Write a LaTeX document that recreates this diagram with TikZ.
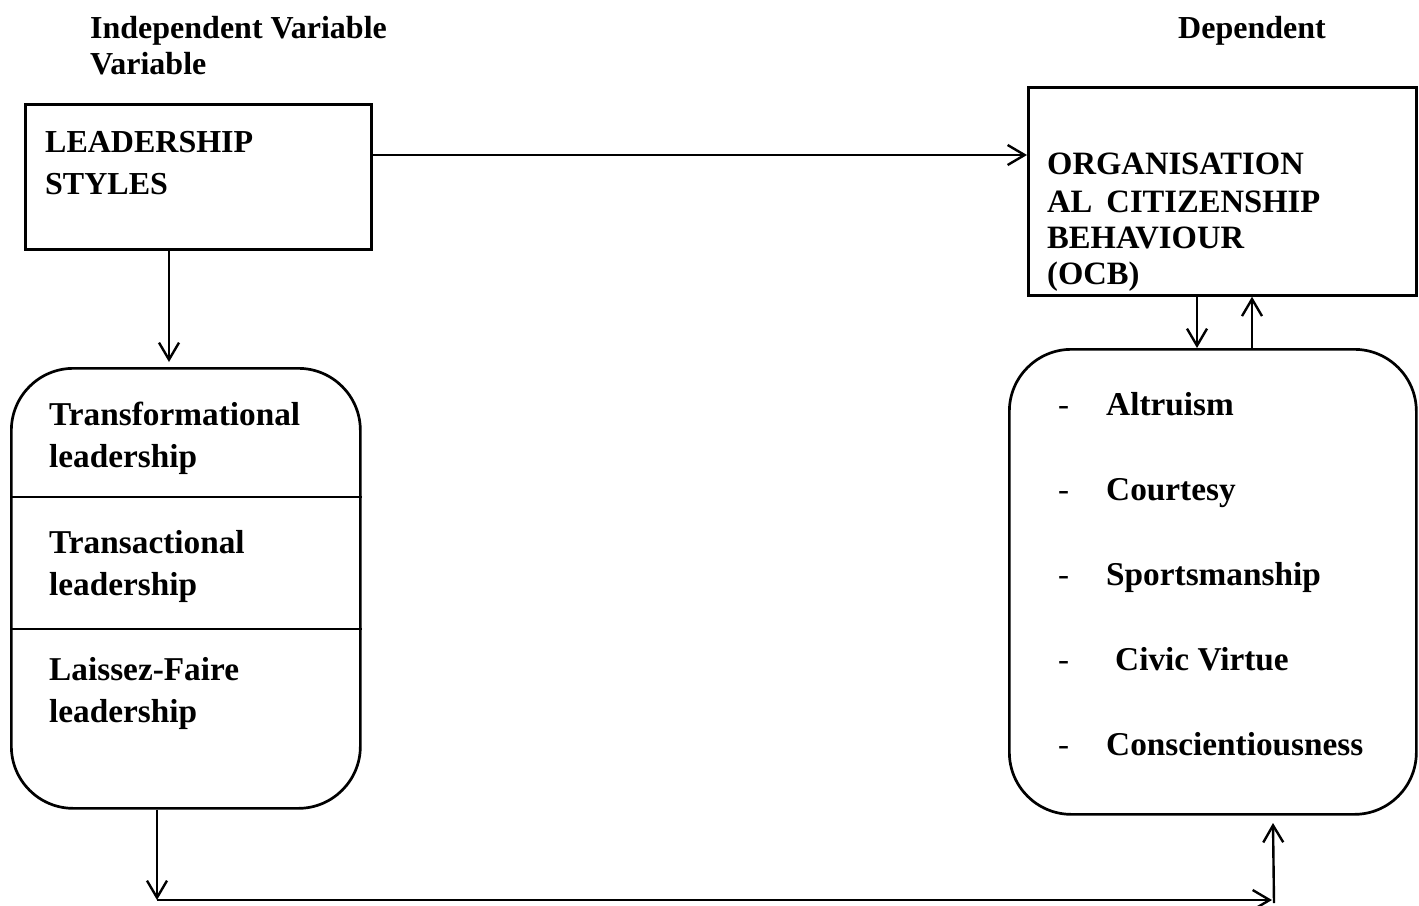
\documentclass[tikz,border=0pt]{standalone}
\usepackage{fontspec}
\setmainfont{Liberation Serif}
\usetikzlibrary{arrows.meta}
\begin{document}
\begin{tikzpicture}[x=1pt,y=-1pt,
  txt/.style={inner sep=0pt,anchor=base west,font=\fontsize{32}{36}\selectfont\bfseries},
  itm/.style={inner sep=0pt,anchor=base west,font=\fontsize{33.3}{36}\selectfont\bfseries},
  otx/.style={inner sep=0pt,anchor=base west,font=\fontsize{32.6}{36}\selectfont\bfseries},
  dsh/.style={inner sep=0pt,anchor=base west,font=\fontsize{33}{36}\selectfont},
  sqbox/.style={draw,line width=2.7pt,inner sep=0pt,anchor=north west},
  rbox/.style={draw,line width=2.7pt,inner sep=0pt,anchor=north west,rounded corners=62pt},
  conn/.style={line width=2.4pt,-{Straight Barb[length=17pt,width=20pt,line width=2.4pt]}}]
\useasboundingbox (0,0) rectangle (1419,905);
% headers
\node[txt] (h1) at (90,38) {Independent Variable};
\node[txt] (h2) at (90,74) {Variable};
\node[txt] (h3) at (1178,38) {Dependent};
% leadership styles box
\node[sqbox,minimum width=346pt,minimum height=145pt] (lead) at (24,103) {};
\node[txt] (l1) at (45,152) {LEADERSHIP};
\node[txt] (l2) at (45,194) {STYLES};
% OCB box
\node[sqbox,minimum width=388pt,minimum height=208pt] (ocb) at (1027,86) {};
\node[otx] (o1) at (1047,174) {ORGANISATION};
\node[otx] (o2) at (1047,212) {AL\hspace{14pt}CITIZENSHIP};
\node[otx] (o3) at (1047,248) {BEHAVIOUR};
\node[otx] (o4) at (1047,284) {(OCB)};
% left rounded box
\node[rbox,minimum width=349pt,minimum height=440pt] (styles) at (10,367) {};
\draw[line width=2.7pt] (styles.west |- 0,497) coordinate (d1a) -- (styles.east |- 0,497) coordinate (d1b);
\draw[line width=2.7pt] (styles.west |- 0,629) coordinate (d2a) -- (styles.east |- 0,629) coordinate (d2b);
\node[itm] (s1) at (49,425) {Transformational};
\node[itm] (s2) at (49,467) {leadership};
\node[itm] (s3) at (49,553) {Transactional};
\node[itm] (s4) at (49,595) {leadership};
\node[itm] (s5) at (49,680) {Laissez-Faire};
\node[itm] (s6) at (49,722) {leadership};
% right rounded box
\node[rbox,minimum width=407pt,minimum height=465pt] (dims) at (1008,348) {};
\node[dsh] (m1) at (1058,415) {-};
\node[dsh] (m2) at (1058,500) {-};
\node[dsh] (m3) at (1058,585) {-};
\node[dsh] (m4) at (1058,670) {-};
\node[dsh] (m5) at (1058,755) {-};
\node[itm] (i1) at (1106,415) {Altruism};
\node[itm] (i2) at (1106,500) {Courtesy};
\node[itm] (i3) at (1106,585) {Sportsmanship};
\node[itm] (i4) at (1115,670) {Civic Virtue};
\node[itm] (i5) at (1106,755) {Conscientiousness};
% connectors
\draw[conn] (lead.east |- 0,155) -- (ocb.west |- 0,155);
\draw[conn] (lead.south -| 169,0) -- (169,362);
\draw[conn] (ocb.south -| 1197,0) -- (dims.north -| 1197,0);
\draw[conn] (dims.north -| 1252,0) -- (ocb.south -| 1252,0);
\coordinate (b1) at (157,900);
\coordinate (b2) at (1272,900);
\coordinate (b3) at (1274,903);
\coordinate (b4) at (1273,823);
\draw[conn] (styles.south -| 157,0) -- (b1);
\draw[conn] (b1) -- (b2);
\draw[conn] (b3) -- (b4);
\end{tikzpicture}
\end{document}
